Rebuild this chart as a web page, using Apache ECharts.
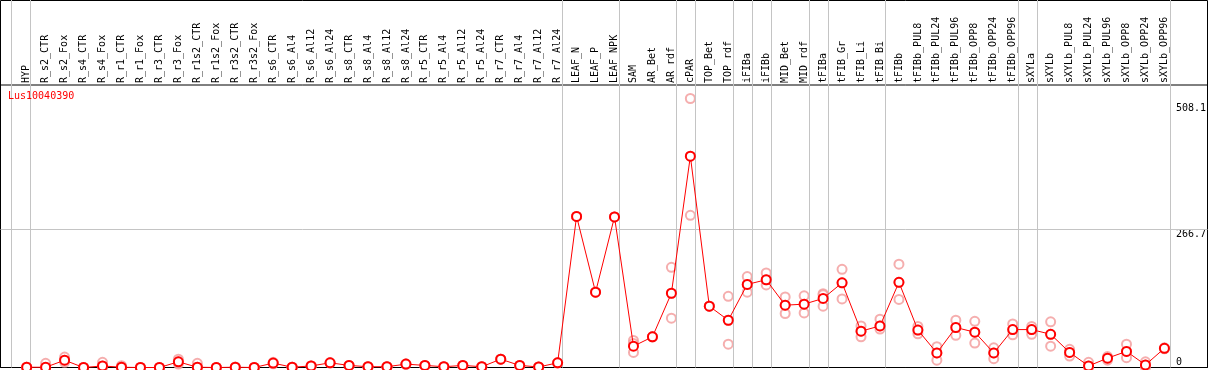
<!DOCTYPE html>
<html>
<head>
<meta charset="utf-8">
<script src="https://cdn.jsdelivr.net/npm/echarts@6/dist/echarts.min.js"></script>
<style>html,body{margin:0;padding:0;background:#fff}#c{width:1209px;height:370px}</style>
</head>
<body>
<div id="c"></div>
<script>
var title = 'Lus10040390';
var categories = ['HYP','R_s2_CTR','R_s2_Fox','R_s4_CTR','R_s4_Fox','R_r1_CTR','R_r1_Fox','R_r3_CTR','R_r3_Fox','R_r1s2_CTR','R_r1s2_Fox','R_r3s2_CTR','R_r3s2_Fox','R_s6_CTR','R_s6_Al4','R_s6_Al12','R_s6_Al24','R_s8_CTR','R_s8_Al4','R_s8_Al12','R_s8_Al24','R_r5_CTR','R_r5_Al4','R_r5_Al12','R_r5_Al24','R_r7_CTR','R_r7_Al4','R_r7_Al12','R_r7_Al24','LEAF_N','LEAF_P','LEAF_NPK','SAM','AR_Bet','AR_rdf','cPAR','TOP_Bet','TOP_rdf','iFIBa','iFIBb','MID_Bet','MID_rdf','tFIBa','tFIB_Gr','tFIB_Li','tFIB_Bi','tFIBb','tFIBb_PUL8','tFIBb_PUL24','tFIBb_PUL96','tFIBb_OPP8','tFIBb_OPP24','tFIBb_OPP96','sXYLa','sXYLb','sXYLb_PUL8','sXYLb_PUL24','sXYLb_PUL96','sXYLb_OPP8','sXYLb_OPP24','sXYLb_OPP96'];
var means = [0.5,0.5,14,0,3,0.5,0,0,11,0.5,0,0.5,0,8.5,0.5,3,9,4,1.5,1.5,6.5,4,1.5,4,1.5,16,4,1,9,
  291,145,290,41,59,143,407,118,91,160,169,120,122,133,163,70,80,164,72,28,77,68,28,73,73,64,29,3,18,31,5,37];
var rep1 = [0.5,8,20,0,10,3.5,0,0,16,8,0,1,0,10,0.5,3,9,4,1.5,1.5,6.5,4,1.5,4,1.5,16,4,1,9,
  291,145,290,52,59,193,518,118,137,175,182,136,138,142,189,80,93,199,79,40,91,89,38,84,79,88,35,10,21,45,11,38];
var rep2 = [0.5,0,10,0,0,0,0,0,6.5,0,0,0,0,7,0.5,3,9,4,1.5,1.5,6.5,4,1.5,4,1.5,16,4,1,9,
  291,145,290,29,59,95,293,118,45,145,159,104,105,118,132,59,74,131,65,14,62,47,17,63,64,41,22,0,14,19,0,36];
var rep3 = [0.5,0,14,0,3,0.5,0,0,11,0.5,0,0.5,0,8.5,0.5,3,9,4,1.5,1.5,6.5,4,1.5,4,1.5,16,4,1,9,
  291,145,290,46,59,143,407,118,91,160,169,120,122,140,163,70,80,164,72,28,77,68,28,73,73,64,29,3,18,31,5,37];
var tickLabels = [0, 266.7, 508.1];
var gridLines = [266.7];
var groupBreaks = [-1,0,28,31,34,35,37,38,39,41,42,45,52,53,60];

var FONT = 'DejaVu Sans Mono';
var yMax = 544;
var n = categories.length;
var band = 19;
var plotLeft = 17.2;
var chart = echarts.init(document.getElementById('c'), null, {renderer: 'canvas'});

function scatter(arr, name) {
  return {
    type: 'scatter', name: name, xAxisIndex: 0, yAxisIndex: 0,
    data: arr, symbol: 'emptyCircle', symbolSize: 9, z: 3,
    itemStyle: {color: '#f29a9a', borderColor: '#f29a9a', borderWidth: 1.5},
    silent: true
  };
}

chart.setOption({
  animation: false,
  backgroundColor: '#fff',
  textStyle: {fontFamily: FONT},
  title: {text: title, left: 8, top: 91, padding: 0,
    textStyle: {color: '#ff0000', fontSize: 10, fontWeight: 'normal', fontFamily: FONT}},
  grid: [
    {left: plotLeft, width: n * band, top: 85, bottom: 2.5},
    {left: plotLeft - 5.5, width: n * band, top: 0, bottom: 2.5},
    {left: 0.5, right: 1.5, top: 85, bottom: 2.5, show: true, borderColor: '#000', borderWidth: 1, backgroundColor: 'transparent'},
    {left: 0.5, right: 1.5, top: 0.5, bottom: 2.5, show: true, borderColor: '#000', borderWidth: 1, backgroundColor: 'transparent'}
  ],
  xAxis: [
    {type: 'category', gridIndex: 0, data: categories, position: 'top', boundaryGap: true,
      axisLine: {show: false}, axisTick: {show: false}, splitLine: {show: false},
      axisLabel: {rotate: 90, interval: 0, margin: 2, fontSize: 10, color: '#000', fontFamily: FONT}},
    {type: 'value', gridIndex: 1, min: 0, max: n, show: false},
    {type: 'value', gridIndex: 2, min: 0, max: 1, show: false},
    {type: 'value', gridIndex: 3, min: 0, max: 1, show: false}
  ],
  yAxis: [
    {type: 'value', gridIndex: 0, min: 0, max: yMax, position: 'right',
      axisLine: {show: false}, axisTick: {show: false}, splitLine: {show: false},
      axisLabel: {customValues: tickLabels.filter(function(v){return v !== 0;}), margin: 2, align: 'left', verticalAlign: 'top',
        fontSize: 10, color: '#000', fontFamily: FONT, showMinLabel: true, showMaxLabel: true}},
    {type: 'value', gridIndex: 0, min: 0, max: yMax, position: 'right',
      axisLine: {show: false}, axisTick: {show: false}, splitLine: {show: false},
      axisLabel: {customValues: tickLabels.filter(function(v){return v === 0;}), margin: 2, align: 'left', verticalAlign: 'bottom',
        fontSize: 10, color: '#000', fontFamily: FONT, showMinLabel: true}},
    {type: 'value', gridIndex: 1, min: 0, max: 1, show: false},
    {type: 'value', gridIndex: 2, min: 0, max: yMax, show: false},
    {type: 'value', gridIndex: 3, min: 0, max: 1, show: false}
  ],
  series: [
    {type: 'line', xAxisIndex: 1, yAxisIndex: 2, data: [], silent: true, z: 1,
      markLine: {silent: true, symbol: 'none', label: {show: false},
        lineStyle: {color: '#c4c4c4', width: 1, type: 'solid'},
        data: groupBreaks.map(function(b){ return {xAxis: b + 1}; })}},
    {type: 'line', xAxisIndex: 2, yAxisIndex: 3, data: [], silent: true, z: 1,
      markLine: {silent: true, symbol: 'none', label: {show: false},
        lineStyle: {color: '#c4c4c4', width: 1, type: 'solid'},
        data: gridLines.map(function(v){ return {yAxis: v}; })}},
    scatter(rep1, 'r1'), scatter(rep2, 'r2'), scatter(rep3, 'r3'),
    {type: 'line', xAxisIndex: 0, yAxisIndex: 0, data: means, z: 5,
      symbol: 'emptyCircle', symbolSize: 9, showAllSymbol: true, clip: false,
      lineStyle: {color: '#ff0000', width: 1},
      itemStyle: {color: '#ff0000', borderColor: '#ff0000', borderWidth: 1.8}, silent: true}
  ]
});
</script>
</body>
</html>
